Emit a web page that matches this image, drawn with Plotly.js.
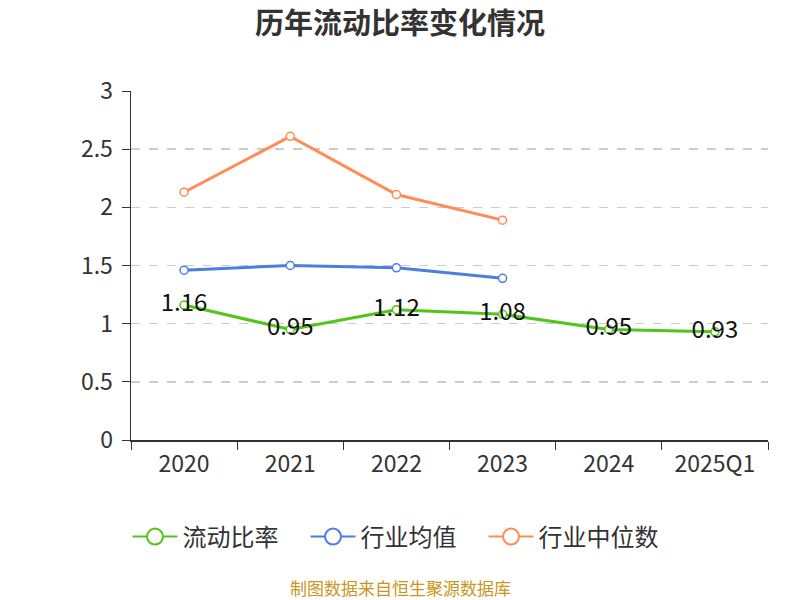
<!DOCTYPE html>
<html>
<head>
<meta charset="utf-8">
<script src="https://cdn.plot.ly/plotly-3.0.1.min.js"></script>
<style>html,body{margin:0;padding:0;background:#fff;}#chart{width:800px;height:600px;}</style>
</head>
<body>
<div id="chart"></div>
<script>
const categories = ["2020", "2021", "2022", "2023", "2024", "2025Q1"];
const currentRatio = [1.16, 0.95, 1.12, 1.08, 0.95, 0.93];
const industryMean = [1.46, 1.50, 1.48, 1.39];
const industryMedian = [2.13, 2.61, 2.11, 1.89];
const seriesNames = ["流动比率", "行业均值", "行业中位数"];
const colors = ["#52c41a", "#4a7fe0", "#ff8c55"];

const fontFam = '"Noto Sans CJK SC", "Noto Sans", sans-serif';

function mk(name, ys, color, withText) {
  const t = {
    type: "scatter",
    mode: withText ? "lines+markers+text" : "lines+markers",
    name: name,
    x: categories.slice(0, ys.length),
    y: ys,
    line: {color: color, width: 3},
    marker: {symbol: "circle", size: 8, color: "#fff", line: {color: color, width: 1.5}},
    cliponaxis: false,
    showlegend: false,
    hoverinfo: "skip"
  };
  if (withText) {
    t.text = ys.map(v => v.toFixed(2));
    t.textposition = "middle center";
    t.textfont = {size: 24, color: "#111", family: fontFam};
  }
  return t;
}

function legendEntry(name, color) {
  return {
    type: "scatter", mode: "lines+markers", name: name,
    x: [null], y: [null],
    line: {color: color, width: 2},
    marker: {symbol: "circle", size: 16, color: "#fff", line: {color: color, width: 2}},
    showlegend: true, hoverinfo: "skip"
  };
}

const data = [
  mk(seriesNames[0], currentRatio, colors[0], true),
  mk(seriesNames[1], industryMean, colors[1], false),
  mk(seriesNames[2], industryMedian, colors[2], false),
  legendEntry(seriesNames[0], colors[0]),
  legendEntry(seriesNames[1], colors[1]),
  legendEntry(seriesNames[2], colors[2])
];

const layout = {
  width: 800, height: 600,
  margin: {l: 131, r: 32, t: 91, b: 160},
  paper_bgcolor: "#fff", plot_bgcolor: "#fff",
  font: {family: fontFam, color: "#333"},
  title: {text: "<b>历年流动比率变化情况</b>", x: 0.5, xanchor: "center", y: 0.96, yanchor: "middle",
          font: {size: 29, color: "#333", family: fontFam}},
  xaxis: {
    type: "category", categoryorder: "array", categoryarray: categories,
    showline: true, linecolor: "#333", linewidth: 1.5,
    ticks: "outside", tickson: "boundaries", ticklen: 8, tickcolor: "#333",
    showgrid: false, zeroline: false,
    tickfont: {size: 23, color: "#333", family: fontFam},
    ticklabelstandoff: 3,
    range: [-0.5, 5.5]
  },
  yaxis: {
    range: [0, 3], tickvals: [0, 0.5, 1, 1.5, 2, 2.5, 3],
    ticktext: ["0", "0.5", "1", "1.5", "2", "2.5", "3"],
    showline: true, linecolor: "#333", linewidth: 1.5,
    ticks: "outside", ticklen: 8, tickcolor: "#333",
    showgrid: true, gridcolor: "#cccccc", griddash: "dash", gridwidth: 1.5,
    zeroline: false,
    tickfont: {size: 23, color: "#333", family: fontFam},
    ticklabelstandoff: 4
  },
  showlegend: true,
  legend: {orientation: "h", x: 0.4137, xanchor: "center", y: -0.278, yanchor: "middle",
           font: {size: 24, color: "#333", family: fontFam}, itemwidth: 45,
           entrywidth: 118, entrywidthmode: "pixels"},
  annotations: [{
    text: "制图数据来自恒生聚源数据库", xref: "paper", yref: "paper",
    x: 0.4223, xanchor: "center", y: -0.424, yanchor: "middle", showarrow: false,
    font: {size: 17, color: "#c8961e", family: fontFam}
  }]
};

Plotly.newPlot("chart", data, layout, {displayModeBar: false, staticPlot: true});
</script>
</body>
</html>
